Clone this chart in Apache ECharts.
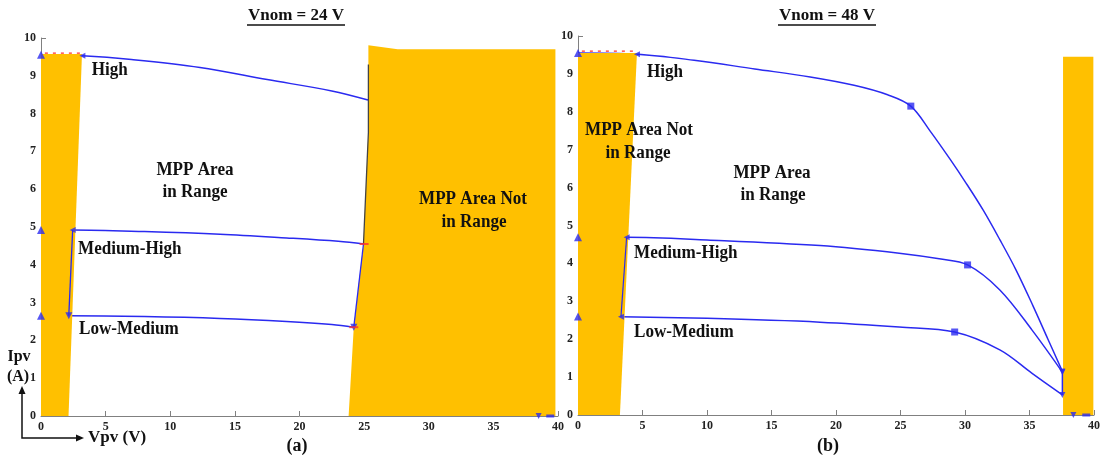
<!DOCTYPE html>
<html>
<head>
<meta charset="utf-8">
<script src="https://cdn.jsdelivr.net/npm/echarts@6/dist/echarts.min.js"></script>
<style>html,body{margin:0;padding:0;background:#fff;}#c{width:1104px;height:461px;}</style>
</head>
<body>
<div id="c"></div>
<script>
// ---- data (Vpv in V, Ipv in A) ----
const xTickMax = 40, xTickStep = 5, yTickMax = 10, yTickStep = 1;

// Vnom = 24 V panel
const high24    = [[0,9.56],[3.2,9.53],[7,9.43],[12.3,9.22],[17.5,8.9],[22.5,8.6],[25.3,8.36]];
const medHigh24 = [[0,4.92],[2.45,4.92],[8,4.88],[13.85,4.81],[19,4.71],[23,4.62],[25.0,4.55]];
const lowMed24  = [[0,2.65],[2.15,2.65],[8,2.63],[13.85,2.58],[19,2.5],[22.5,2.42],[24.2,2.35]];
const zoneLeft24  = [[0,0],[2.13,0],[3.17,9.58],[0,9.58]];
const zoneRight24 = [[23.8,0],[24.2,2.35],[24.95,4.55],[25.33,7.5],[25.33,9.81],[27.6,9.7],[39.8,9.7],[39.8,0]];
const edge24      = [[2.45,4.92],[2.15,2.65]];
const edgeDark24  = [[25.33,9.3],[25.33,7.5],[24.95,4.55]];
const edgeBlue24  = [[24.95,4.55],[24.2,2.35]];
const bottom24    = [[38.5,0],[39.4,0]];

// Vnom = 48 V panel
const high48    = [[0,9.55],[4.57,9.52],[9,9.36],[13.7,9.13],[18,8.92],[21.4,8.7],[24,8.45],[25.8,8.15],
                   [27.3,7.49],[28.84,6.75],[30.08,6.12],[31.4,5.41],[32.71,4.62],[33.95,3.83],[35.27,2.88],[36.43,2.0],[37.55,1.15]];
const medHigh48 = [[0,4.69],[3.77,4.69],[10,4.62],[18.76,4.47],[24.9,4.27],[28,4.12],[30.2,3.96],[32.7,3.3],[35.2,2.24],[37.55,1.13]];
const lowMed48  = [[0,2.6],[3.33,2.59],[10,2.55],[18.76,2.45],[24.9,2.32],[29.2,2.19],[32.7,1.72],[35.2,1.1],[37.55,0.53]];
const knees48   = [[25.8,8.15],[30.2,3.96],[29.2,2.19]];
const zoneLeft48  = [[0,0],[3.25,0],[4.57,9.55],[0,9.55]];
const zoneRight48 = [[37.6,0],[39.95,0],[39.95,9.45],[37.6,9.45]];
const edge48      = [[3.77,4.69],[3.33,2.59]];
const endLink48   = [[37.55,1.15],[37.55,0.53]];
const bottom48    = [[38.4,0],[39.4,0]];

// ---- styling ----
const BLUE = '#2a2af0', ORANGE = '#FFC000', AXIS = '#808080';
const SERIF = '"Liberation Serif","Times New Roman",serif';

function xAx(i){
  return {type:'value',gridIndex:i,min:0,max:xTickMax,interval:xTickStep,
    splitLine:{show:false},
    axisLine:{show:true,onZero:false,lineStyle:{color:AXIS,width:1}},
    axisTick:{show:true,inside:true,length:5,lineStyle:{color:AXIS}},
    axisLabel:{margin:5,color:'#222',fontFamily:SERIF,fontWeight:'bold',fontSize:12}};
}
function yAx(i){
  return {type:'value',gridIndex:i,min:0,max:yTickMax,interval:yTickStep,
    splitLine:{show:false},
    axisLine:{show:true,onZero:false,lineStyle:{color:AXIS,width:1}},
    axisTick:{show:true,inside:true,length:5,lineStyle:{color:AXIS}},
    axisLabel:{margin:5,color:'#222',fontFamily:SERIF,fontWeight:'bold',fontSize:12}};
}
function zones(i, polys){
  return {type:'custom',xAxisIndex:i,yAxisIndex:i,z:2,silent:true,
    data:polys.map((p,k)=>[p[0][0],p[0][1],k]),encode:{x:0,y:1},
    renderItem:(params,api)=>{
      const poly = polys[api.value(2)];
      return {type:'polygon',shape:{points:poly.map(v=>api.coord(v))},style:{fill:ORANGE}};
    }};
}
function curve(i, data){
  return {type:'line',xAxisIndex:i,yAxisIndex:i,z:1,data:data,showSymbol:false,
    smooth:0.35,lineStyle:{color:BLUE,width:1.5},silent:true};
}
function seg(i, data, color, w, type){
  return {type:'line',xAxisIndex:i,yAxisIndex:i,z:3,data:data,showSymbol:false,
    lineStyle:{color:color,width:w,type:type||'solid'},silent:true};
}
function marks(i, data, sym, size, rot, color){
  return {type:'scatter',xAxisIndex:i,yAxisIndex:i,z:4,data:data,symbol:sym,
    symbolSize:size,symbolRotate:rot||0,itemStyle:{color:color||BLUE},silent:true};
}

const LBL = {fill:'#111',fontFamily:SERIF,fontWeight:'bold',fontSize:18};
function txt(x,y,t,align,extra){
  return Object.assign({type:'text',x:x,y:y,z:100,scaleX:0.95,
    style:Object.assign({text:t,align:align||'left',verticalAlign:'middle'},LBL)},extra||{});
}

const option = {
  animation:false,
  backgroundColor:'#fff',
  grid:[{left:41,top:38,width:517,height:378},{left:578,top:36,width:516,height:379}],
  xAxis:[xAx(0),xAx(1)],
  yAxis:[yAx(0),yAx(1)],
  series:[
    curve(0,high24),curve(0,medHigh24),curve(0,lowMed24),
    zones(0,[zoneLeft24,zoneRight24]),
    seg(0,edge24,BLUE,1.3),seg(0,edgeDark24,'#444',1.3),seg(0,edgeBlue24,BLUE,1.3),
    seg(0,[[0.3,9.6],[3.1,9.6]],'#ff3030',1.2,[3,5]),
    marks(0,[high24[0],medHigh24[0],lowMed24[0]],'triangle',8,0),
    marks(0,[high24[1],medHigh24[1]],'triangle',6,90),
    marks(0,[lowMed24[1],lowMed24[lowMed24.length-1]],'triangle',7,180),
    marks(0,[medHigh24[medHigh24.length-1],lowMed24[lowMed24.length-1]],'rect',[9,2],0,'#ff3030'),
    marks(0,[bottom24[0]],'triangle',6,180),
    marks(0,[bottom24[1]],'rect',[8,3],0),

    curve(1,high48),curve(1,medHigh48),curve(1,lowMed48),
    zones(1,[zoneLeft48,zoneRight48]),
    seg(1,edge48,BLUE,1.2),seg(1,endLink48,BLUE,1.5),
    seg(1,[[0.3,9.6],[4.4,9.6]],'#ff3030',1.2,[3,5]),
    marks(1,knees48,'rect',7,0),
    marks(1,[high48[0],medHigh48[0],lowMed48[0]],'triangle',8,0),
    marks(1,[high48[1],medHigh48[1],lowMed48[1]],'triangle',6,90),
    marks(1,[high48[high48.length-1],medHigh48[medHigh48.length-1],lowMed48[lowMed48.length-1]],'triangle',6,180),
    marks(1,[bottom48[0]],'triangle',6,180),
    marks(1,[bottom48[1]],'rect',[8,3],0)
  ],
  graphic:[
    // titles
    {type:'text',x:296,y:16,z:100,style:{text:'Vnom = 24 V',align:'center',verticalAlign:'middle',fill:'#111',fontFamily:SERIF,fontWeight:'bold',fontSize:17}},
    {type:'line',z:100,shape:{x1:247,y1:25,x2:345,y2:25},style:{stroke:'#111',lineWidth:1.5}},
    {type:'text',x:827,y:16,z:100,style:{text:'Vnom = 48 V',align:'center',verticalAlign:'middle',fill:'#111',fontFamily:SERIF,fontWeight:'bold',fontSize:17}},
    {type:'line',z:100,shape:{x1:778,y1:25,x2:876,y2:25},style:{stroke:'#111',lineWidth:1.5}},
    // panel (a)
    txt(91.7,70,'High'),
    txt(195,170,'MPP Area','center'),
    txt(195,192,'in Range','center'),
    txt(78,249,'Medium-High'),
    txt(79,329,'Low-Medium'),
    txt(473,199,'MPP Area Not','center'),
    txt(474,222,'in Range','center'),
    // panel (b)
    txt(647,72,'High'),
    txt(639,130,'MPP Area Not','center'),
    txt(638,153,'in Range','center'),
    txt(772,173,'MPP Area','center'),
    txt(773,195,'in Range','center'),
    txt(634,253,'Medium-High'),
    txt(634,332,'Low-Medium'),
    // sub captions
    {type:'text',x:297,y:446,z:100,style:{text:'(a)',align:'center',verticalAlign:'middle',fill:'#111',fontFamily:SERIF,fontWeight:'bold',fontSize:18}},
    {type:'text',x:828,y:446,z:100,style:{text:'(b)',align:'center',verticalAlign:'middle',fill:'#111',fontFamily:SERIF,fontWeight:'bold',fontSize:18}},
    // axis names with arrows
    {type:'text',x:19,y:357,z:100,style:{text:'Ipv',align:'center',verticalAlign:'middle',fill:'#111',fontFamily:SERIF,fontWeight:'bold',fontSize:16}},
    {type:'text',x:18,y:377,z:100,style:{text:'(A)',align:'center',verticalAlign:'middle',fill:'#111',fontFamily:SERIF,fontWeight:'bold',fontSize:16}},
    {type:'text',x:88,y:438,z:100,style:{text:'Vpv (V)',align:'left',verticalAlign:'middle',fill:'#111',fontFamily:SERIF,fontWeight:'bold',fontSize:17}},
    {type:'polyline',z:100,shape:{points:[[22,392],[22,438],[79,438]]},style:{stroke:'#111',lineWidth:1.5,fill:null}},
    {type:'polygon',z:100,shape:{points:[[22,386],[18.5,394],[25.5,394]]},style:{fill:'#111'}},
    {type:'polygon',z:100,shape:{points:[[84,438],[76,434.5],[76,441.5]]},style:{fill:'#111'}}
  ]
};
const chart = echarts.init(document.getElementById('c'),null,{renderer:'canvas'});
chart.setOption(option);
</script>
</body>
</html>
